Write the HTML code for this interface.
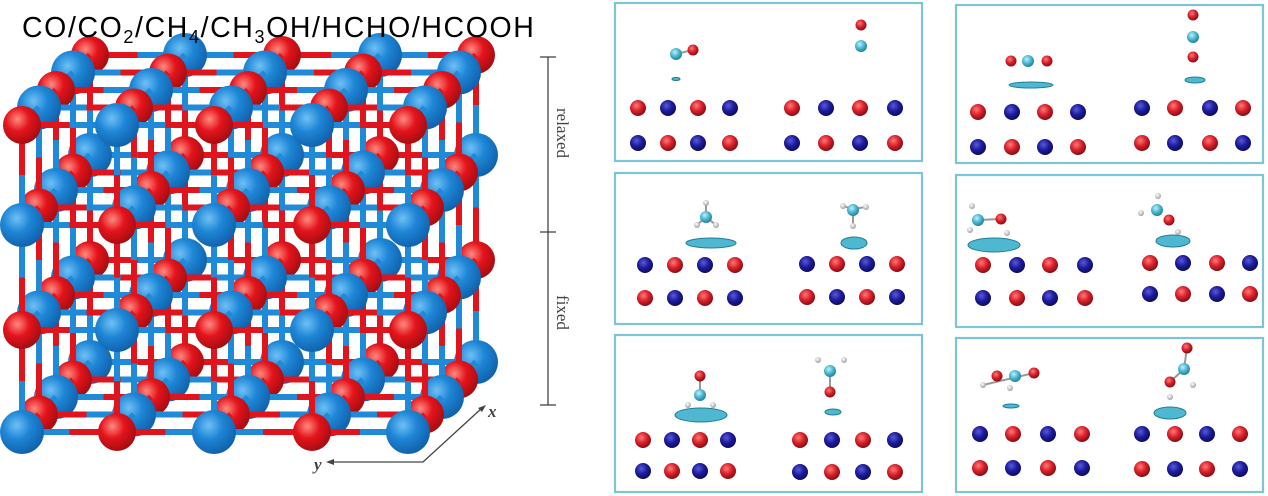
<!DOCTYPE html>
<html><head><meta charset="utf-8"><style>
html,body{margin:0;padding:0;background:#fff;width:1268px;height:496px;overflow:hidden;position:relative;font-family:"Liberation Sans",sans-serif}
#t{position:absolute;left:22px;top:12px;font-size:28.5px;color:#000;white-space:nowrap;letter-spacing:1.6px;z-index:2}
#t sub{font-size:18px;vertical-align:-6px;line-height:0}
svg{position:absolute;left:0;top:0}
.lab{font-family:"Liberation Serif",serif;font-size:17px;fill:#444}
</style></head><body>
<svg id="s" width="1268" height="496" xmlns="http://www.w3.org/2000/svg">
<defs>
<radialGradient id="gb" cx="0.38" cy="0.35" r="0.7"><stop offset="0" stop-color="#6fc0f5"/><stop offset="0.45" stop-color="#1e86d6"/><stop offset="1" stop-color="#0f5ea8"/></radialGradient>
<radialGradient id="gr" cx="0.38" cy="0.35" r="0.7"><stop offset="0" stop-color="#ff8a80"/><stop offset="0.45" stop-color="#e4141c"/><stop offset="1" stop-color="#a00c10"/></radialGradient>
<radialGradient id="sb" cx="0.4" cy="0.35" r="0.7"><stop offset="0" stop-color="#5a5ad8"/><stop offset="0.5" stop-color="#1c1c9c"/><stop offset="1" stop-color="#0a0a55"/></radialGradient>
<radialGradient id="sr" cx="0.4" cy="0.35" r="0.7"><stop offset="0" stop-color="#ff7a7a"/><stop offset="0.5" stop-color="#d8202a"/><stop offset="1" stop-color="#7a0a10"/></radialGradient>
<radialGradient id="sc" cx="0.4" cy="0.35" r="0.7"><stop offset="0" stop-color="#bff0fa"/><stop offset="0.5" stop-color="#4cb8d2"/><stop offset="1" stop-color="#1d7890"/></radialGradient>
<radialGradient id="sh" cx="0.4" cy="0.35" r="0.7"><stop offset="0" stop-color="#ffffff"/><stop offset="1" stop-color="#9a9a9a"/></radialGradient>
</defs>
<g id="cube"></g>
<g id="pan"></g>
<g stroke="#444" stroke-width="1.3" fill="none">
<line x1="548" y1="57" x2="548" y2="405"/>
<line x1="540" y1="57" x2="556" y2="57"/>
<line x1="540" y1="232" x2="556" y2="232"/>
<line x1="540" y1="405" x2="556" y2="405"/>
<polyline points="330,462 423,462 482,408"/>
</g>
<polygon points="326,462 334,459 334,465" fill="#444"/>
<polygon points="486,405 478,408 482,412" fill="#444"/>
<text class="lab" transform="translate(557,108) rotate(90)">relaxed</text>
<text class="lab" transform="translate(557,295) rotate(90)">fixed</text>
<text class="lab" x="488" y="417" font-style="italic" font-weight="bold">x</text>
<text class="lab" x="314" y="470" font-style="italic" font-weight="bold">y</text>
</svg>
<div id="t">CO/CO<sub>2</sub>/CH<sub>4</sub>/CH<sub>3</sub>OH/HCHO/HCOOH</div>
<script>
var NS="http://www.w3.org/2000/svg";
function el(p,n,a){var e=document.createElementNS(NS,n);for(var k in a)e.setAttribute(k,a[k]);p.appendChild(e);return e;}
var cube=document.getElementById('cube');
var X=[22,117,214,312,408],Y=[125,225,330,432];
function pos(i,j,d){return [X[i]+17*d, Y[j]-17.5*d];}
function col(i,j,d){return (i+j+d)%2==0?'r':'b';}
var RC='#e0141c',BC='#1e8ad8';
function bond(a,b,ca,cb){var mx=(a[0]+b[0])/2,my=(a[1]+b[1])/2;
 el(cube,'line',{x1:a[0],y1:a[1],x2:mx,y2:my,stroke:ca=='r'?RC:BC,'stroke-width':6});
 el(cube,'line',{x1:mx,y1:my,x2:b[0],y2:b[1],stroke:cb=='r'?RC:BC,'stroke-width':6});}
for(var d=4;d>=0;d--){
 for(var i=0;i<5;i++)for(var j=0;j<4;j++){
  var p=pos(i,j,d);
  if(d<4)bond(p,pos(i,j,d+1),col(i,j,d),col(i,j,d+1));
  if(i<4)bond(p,pos(i+1,j,d),col(i,j,d),col(i+1,j,d));
  if(j<3)bond(p,pos(i,j+1,d),col(i,j,d),col(i,j+1,d));
 }
 for(var j=0;j<4;j++)for(var i=0;i<5;i++){
  var p=pos(i,j,d),c=col(i,j,d);
  el(cube,'circle',{cx:p[0],cy:p[1],r:c=='b'?22:19,fill:c=='b'?'url(#gb)':'url(#gr)'});
 }
}
var pan=document.getElementById('pan');
function box(x1,y1,x2,y2){el(pan,'rect',{x:x1,y:y1,width:x2-x1,height:y2-y1,fill:'none',stroke:'#7cc4d8','stroke-width':2.2});}
function slab(xs,ys,start){for(var r=0;r<2;r++)for(var c=0;c<4;c++){var red=((c+r+start)%2==0);
 el(pan,'circle',{cx:xs[c],cy:ys[r],r:8,fill:red?'url(#sr)':'url(#sb)'});}}
function at(x,y,t){var r=t=='h'?3:(t=='c'?6:5.5);el(pan,'circle',{cx:x,cy:y,r:r,fill:'url(#s'+t+')'});}
function blob(x,y,rx,ry){el(pan,'ellipse',{cx:x,cy:y,rx:rx,ry:ry,fill:'#4fb8d0',stroke:'#1d7f98','stroke-width':1});}
function ln(x1,y1,x2,y2){el(pan,'line',{x1:x1,y1:y1,x2:x2,y2:y2,stroke:'#999','stroke-width':2});}
box(615,3,922,161);box(956,5,1263,163);
box(615,173,922,324);box(956,175,1263,327);
box(615,335,922,492);box(956,338,1263,492);
slab([638,668,698,730],[108,143],0);slab([792,826,860,895],[108,143],0);
ln(676,54,693,50);at(676,54,'c');at(693,50,'r');blob(676,79,4,1.5);
at(861,25,'r');at(861,46,'c');
slab([978,1012,1045,1078],[112,147],0);slab([1142,1175,1210,1243],[108,143],1);
at(1011,61,'r');at(1028,61,'c');at(1047,61,'r');blob(1031,85,22,3);
at(1193,15,'r');at(1193,37,'c');at(1193,57,'r');blob(1195,80,10,3);
slab([645,675,705,735],[265,298],1);slab([807,837,867,897],[264,297],1);
blob(711,243,25,5);ln(706,217,706,203);ln(706,217,697,225);ln(706,217,716,225);
at(706,203,'h');at(697,225,'h');at(716,225,'h');at(706,217,'c');
blob(854,243,13,6);ln(853,209,843,206);ln(853,209,866,207);ln(853,209,853,226);
at(843,206,'h');at(866,207,'h');at(853,226,'h');at(853,210,'c');
slab([983,1017,1050,1085],[265,298],0);slab([1150,1183,1217,1250],[263,294],0);
blob(994,245,26,7);ln(978,220,1001,219);at(972,206,'h');at(970,230,'h');at(1007,233,'h');at(978,220,'c');at(1001,219,'r');
blob(1173,241,17,6);at(1158,196,'h');at(1141,213,'h');at(1178,232,'h');at(1157,210,'c');at(1169,220,'r');
slab([643,672,700,728],[440,471],0);slab([800,832,863,895],[440,472],0);
blob(701,415,26,7);ln(700,376,700,395);at(688,405,'h');at(713,405,'h');at(700,376,'r');at(700,395,'c');
blob(833,412,8,3);ln(830,371,830,392);at(818,360,'h');at(844,360,'h');at(830,371,'c');at(830,392,'r');
slab([980,1013,1048,1082],[434,468],1);slab([1142,1175,1207,1240],[434,469],1);
blob(1011,406,8,2);ln(983,385,1034,373);at(983,385,'h');at(997,376,'r');at(1015,376,'c');at(1034,373,'r');at(1010,388,'h');
blob(1170,413,16,6);ln(1187,348,1184,369);ln(1184,369,1170,382);at(1187,348,'r');at(1184,369,'c');at(1170,382,'r');at(1193,385,'h');at(1170,397,'h');
</script>
</body></html>
